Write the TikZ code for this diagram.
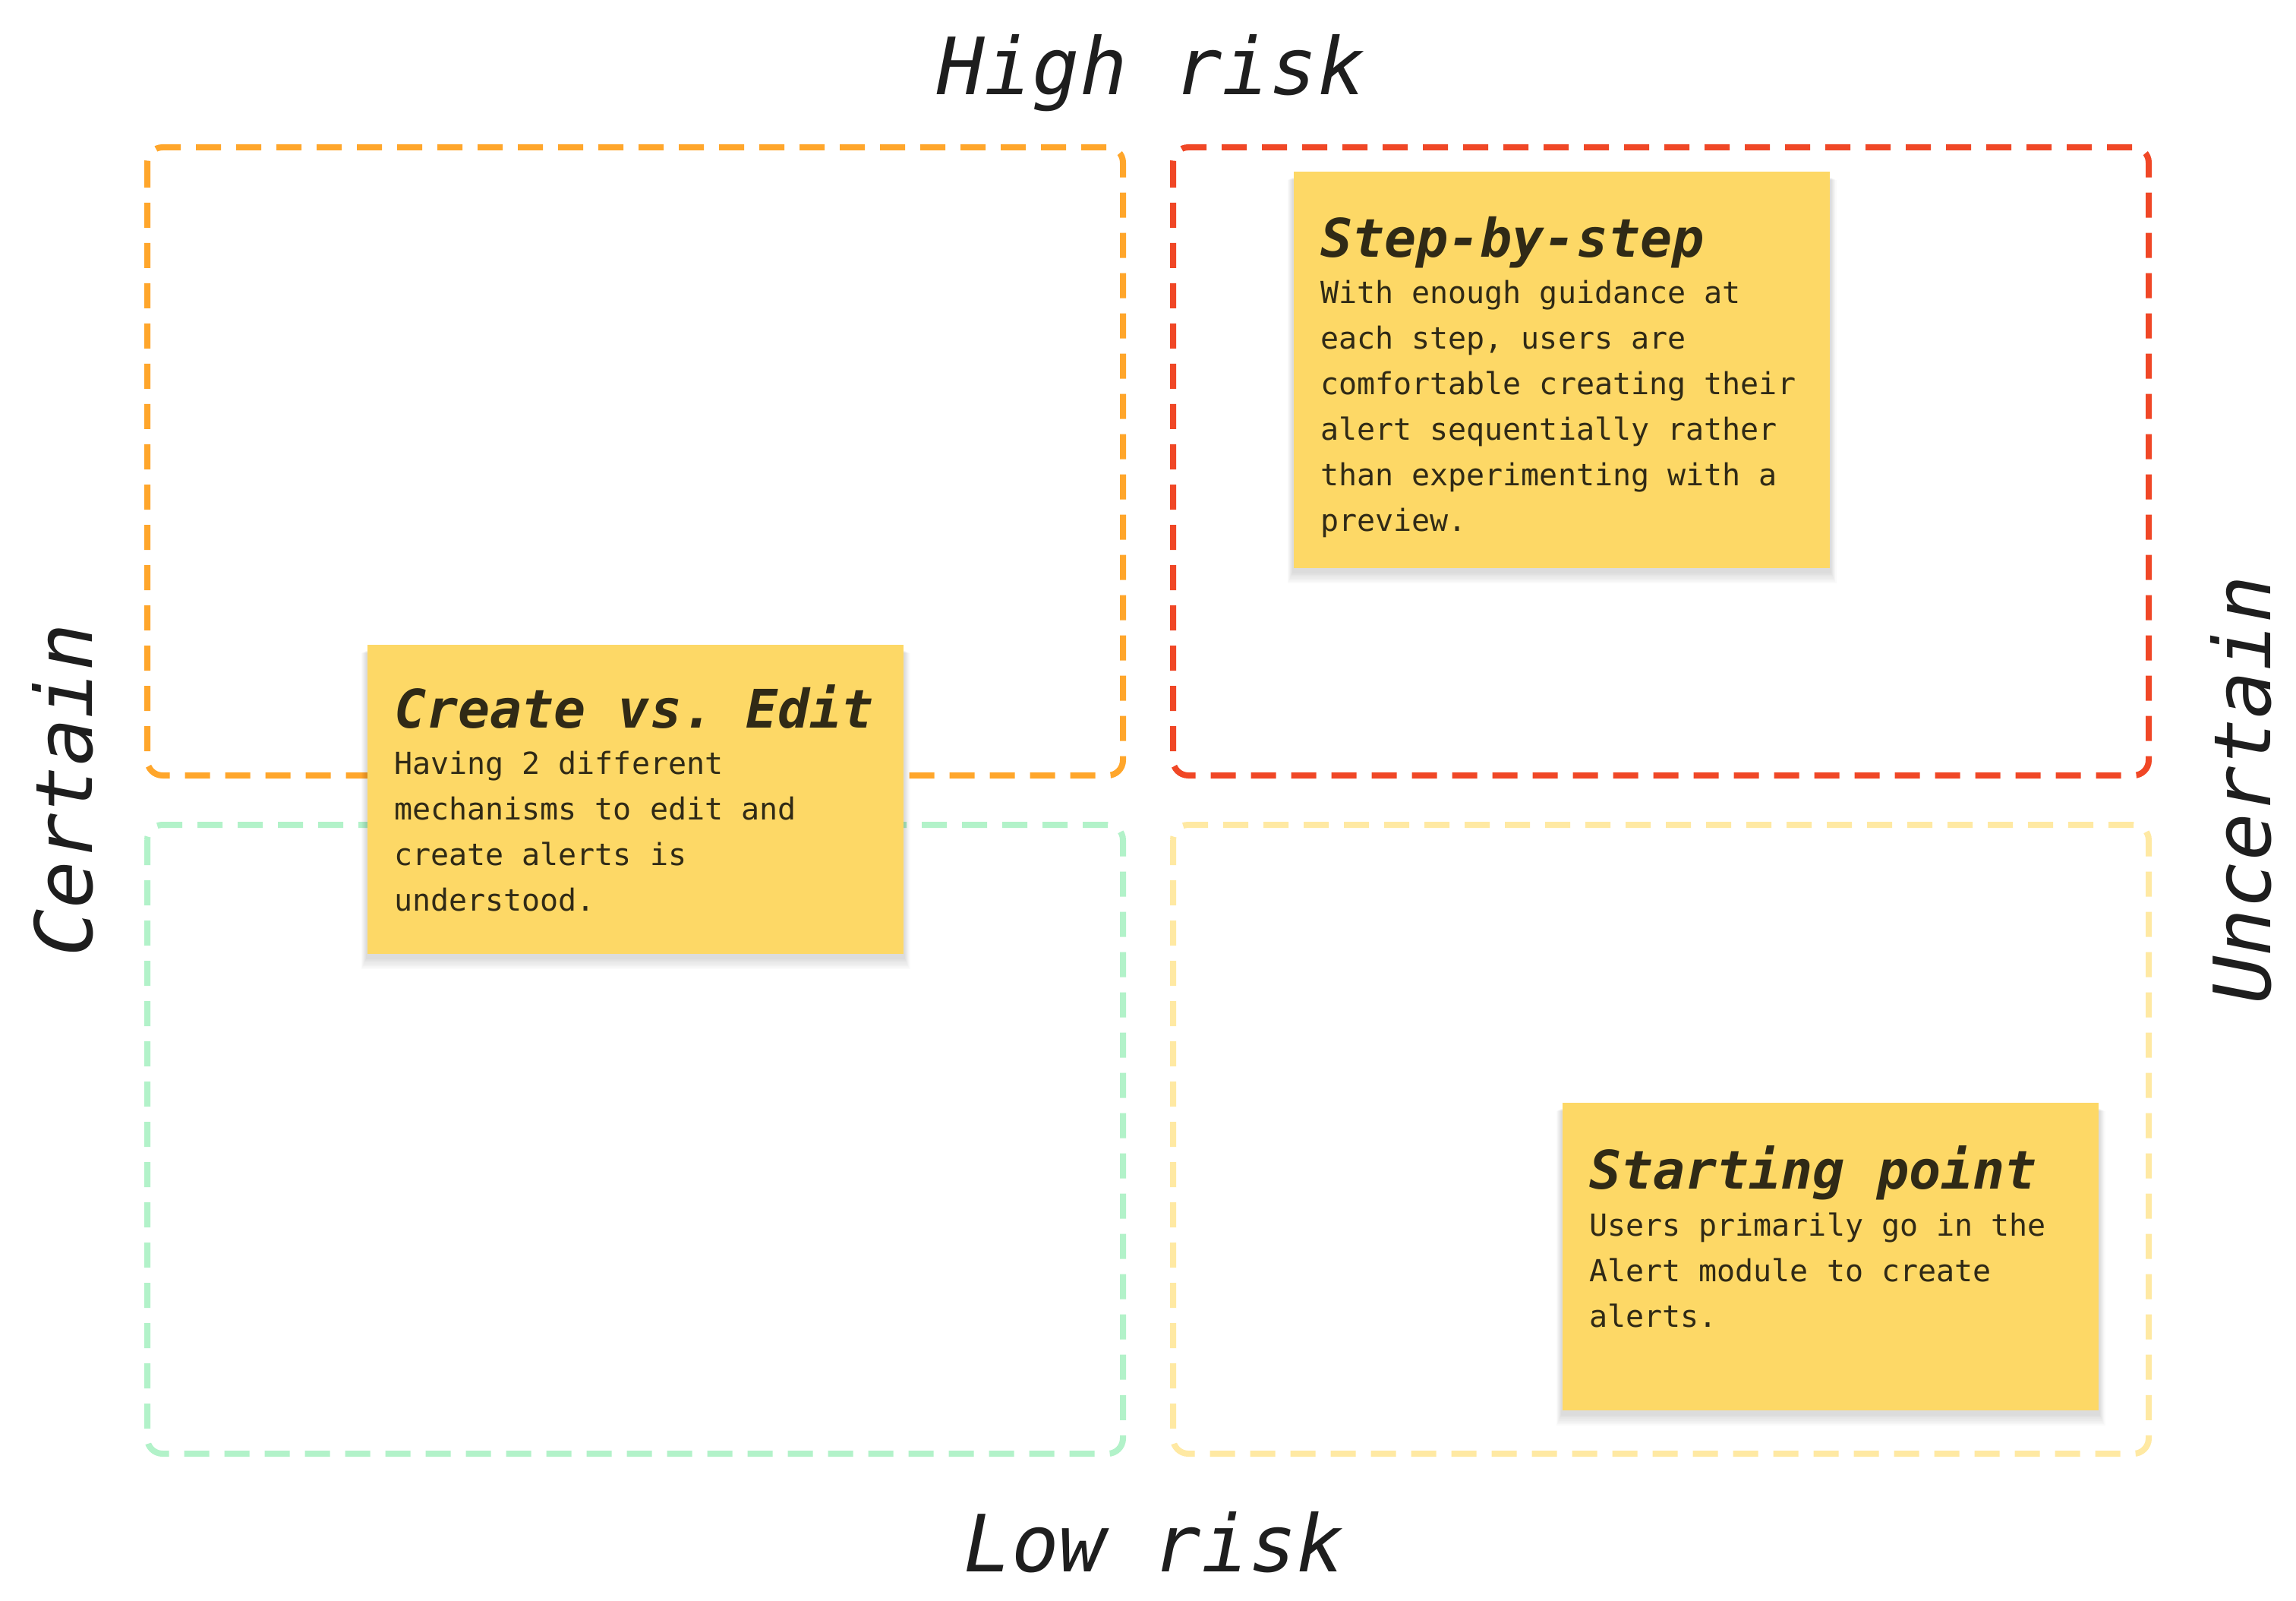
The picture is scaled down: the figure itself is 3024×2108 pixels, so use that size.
\documentclass[tikz,border=0pt]{standalone}
\usepackage{fontspec}
\newfontfamily\monof{DejaVu Sans Mono}
\usetikzlibrary{calc}
\definecolor{qorange}{RGB}{255,166,43}
\definecolor{qred}{RGB}{240,71,38}
\definecolor{qgreen}{RGB}{178,242,201}
\definecolor{qyellow}{RGB}{255,233,163}
\definecolor{stickyc}{RGB}{253,216,102}
\definecolor{stext}{RGB}{48,42,22}
\definecolor{axisc}{RGB}{30,30,30}
\frenchspacing
\newcommand{\monospacing}{\spaceskip=0.6021em\relax\xspaceskip=0.6021em\relax}
\newcommand{\stickyshadow}[1]{%
  \foreach \k in {1,...,7} {%
    \fill[black, opacity=0.018] ($(#1.north west)+(-\k*1.1, 8+\k*0.5)$) rectangle ($(#1.south east)+(\k*1.1, 4+\k*2.2)$);
  }}
\pgfdeclarelayer{quadlayer}
\pgfdeclarelayer{shadowlayer}
\pgfsetlayers{quadlayer,shadowlayer,main}
\begin{document}
\begin{tikzpicture}[x=0.25pt,y=-0.25pt,
  quad/.style={line width=2pt, dash pattern=on 8.25pt off 5pt, rounded corners=5pt},
  sticky/.style={fill=stickyc, minimum width=176.5pt, inner sep=0pt},
  stitle/.style={anchor=base west, inner sep=0pt, text=stext,
    font=\monof\bfseries\itshape\fontsize{17.5}{21}\selectfont},
  sbody/.style={anchor=base west, inner sep=0pt, text=stext, text width=172pt, align=flush left,
    font=\monof\fontsize{10}{15}\selectfont},
  axislabel/.style={text=axisc, inner sep=0pt, anchor=base,
    font=\monof\itshape\fontsize{26}{30}\selectfont}]
\begin{pgfonlayer}{quadlayer}
\useasboundingbox[fill=white] (0,0) rectangle (3024,2108);
% quadrants
\draw[quad, draw=qorange] (194,194) rectangle (1479,1021);
\draw[quad, draw=qred] (1545,194) rectangle (2830,1021);
\draw[quad, draw=qgreen] (194,1086) rectangle (1479,1914);
\draw[quad, draw=qyellow] (1545,1086) rectangle (2830,1914);
\end{pgfonlayer}

% axis labels
\node[axislabel] (high) at (1516,125) {High risk};
\node[axislabel] (low) at (1520,2069) {Low risk};
\node[axislabel, rotate=90] (certain) at (122,1040) {Certain};
\node[axislabel, rotate=90] (uncertain) at (2990,1040) {Uncertain};

% sticky notes
\node[sticky, minimum height=130.5pt] (s1) at (2057,487) {};
\node[stitle] (s1t) at ($(s1.north west)+(35,113)$) {Step-by-step};
\node[sbody] (s1b) at ($(s1.north west)+(35,174)$) {\monospacing With enough guidance at\\each step, users are\\comfortable creating their\\alert sequentially rather\\than experimenting with a\\preview.};

\node[sticky, minimum height=101.75pt] (s2) at (837,1052.5) {};
\node[stitle] (s2t) at ($(s2.north west)+(35,110)$) {Create vs. Edit};
\node[sbody] (s2b) at ($(s2.north west)+(35,171)$) {\monospacing Having 2 different\\mechanisms to edit and\\create alerts is\\understood.};

\node[sticky, minimum height=101.25pt] (s3) at (2411,1654.5) {};
\node[stitle] (s3t) at ($(s3.north west)+(35,114)$) {Starting point};
\node[sbody] (s3b) at ($(s3.north west)+(35,176)$) {\monospacing Users primarily go in the\\Alert module to create\\alerts.};

\begin{pgfonlayer}{shadowlayer}
\stickyshadow{s1}
\stickyshadow{s2}
\stickyshadow{s3}
\end{pgfonlayer}
\end{tikzpicture}
\end{document}
